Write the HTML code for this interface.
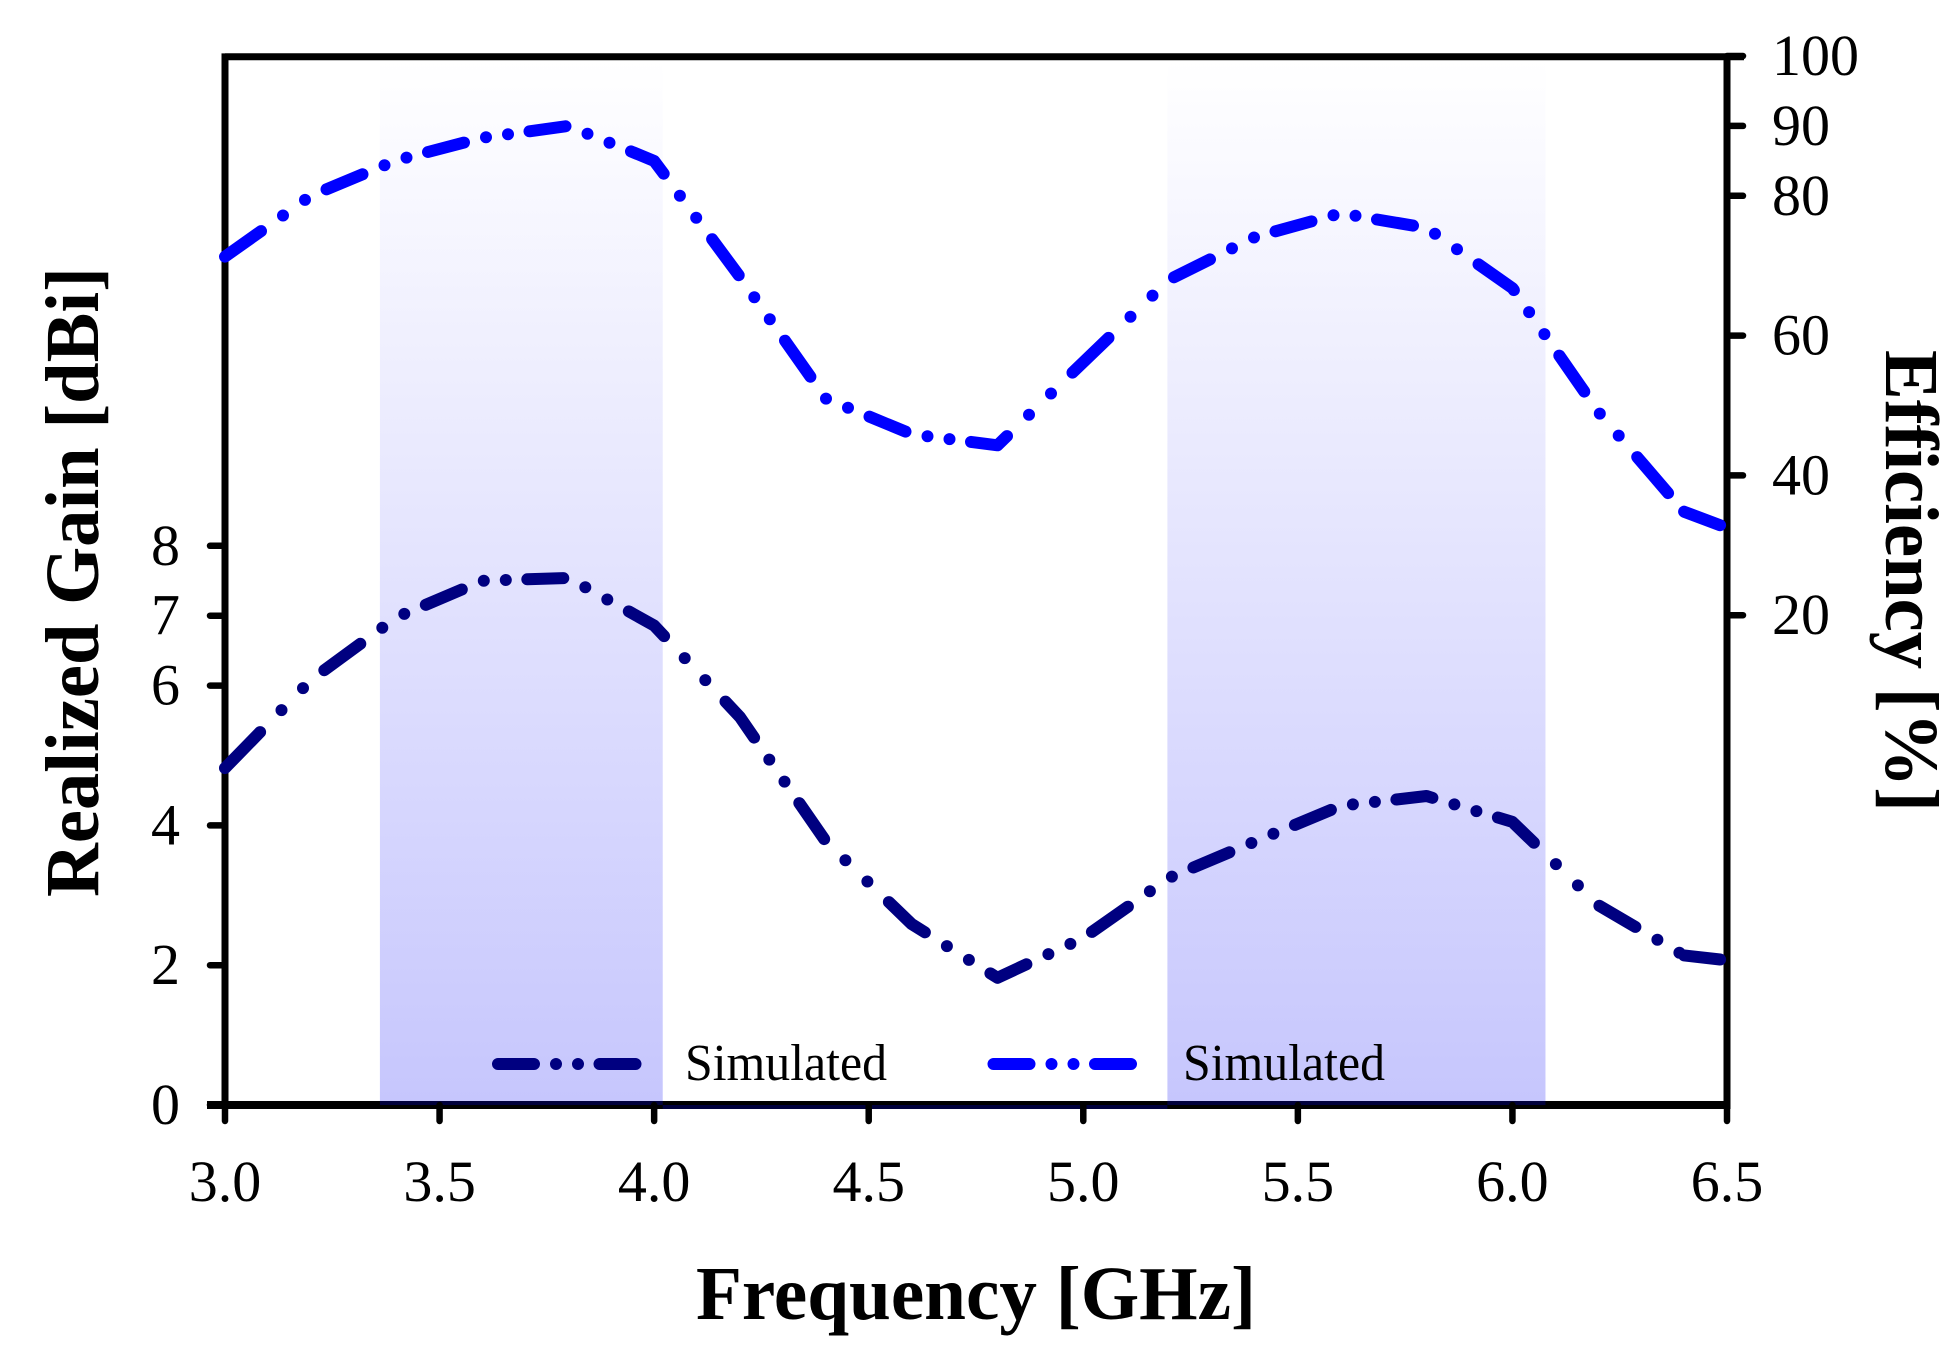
<!DOCTYPE html>
<html lang="en">
<head>
<meta charset="utf-8">
<title>Realized Gain and Efficiency vs Frequency</title>
<style>
  html, body { margin: 0; padding: 0; background: #fff; }
  svg { display: block; }
  text { font-family: "Liberation Serif", "Times New Roman", serif; fill: #000; }
</style>
</head>
<body>
<svg id="chart" xmlns="http://www.w3.org/2000/svg" width="1959" height="1348" viewBox="0 0 1959 1348">
  <defs>
    <linearGradient id="bandFill" gradientUnits="userSpaceOnUse" x1="0" y1="60" x2="0" y2="1105">
      <stop offset="0" stop-color="#ffffff"/>
      <stop offset="1" stop-color="#c6c6fd"/>
    </linearGradient>
  </defs>
  <g id="bands"></g>
  <g id="axes"></g>
  <g id="series"></g>
  <g id="labels"></g>
  <g id="legend"></g>
  <text x="976" y="1319" font-size="76" font-weight="bold" text-anchor="middle" textLength="560" lengthAdjust="spacingAndGlyphs">Frequency [GHz]</text>
  <text transform="translate(98 582) rotate(-90)" font-size="76" font-weight="bold" text-anchor="middle" textLength="630" lengthAdjust="spacingAndGlyphs">Realized Gain [dBi]</text>
  <text transform="translate(1886 581) rotate(90)" font-size="76" font-weight="bold" text-anchor="middle" textLength="462" lengthAdjust="spacingAndGlyphs">Efficiency [%]</text>
</svg>
<script>
const frequencies = [3.0, 3.2, 3.4, 3.6, 3.8, 4.0, 4.2, 4.4, 4.6, 4.8, 5.0, 5.2, 5.4, 5.6, 5.8, 6.0, 6.2, 6.4, 6.5];
const realizedGain = [4.82, 6.08, 6.98, 7.50, 7.54, 6.86, 5.55, 3.77, 2.59, 1.82, 2.39, 3.25, 3.77, 4.28, 4.42, 4.05, 2.86, 2.14, 2.07];
const efficiency = [71.3, 80.0, 85.1, 88.3, 90.0, 85.0, 68.4, 51.0, 45.9, 44.3, 56.2, 68.0, 74.1, 77.5, 75.4, 66.8, 49.1, 34.8, 32.5];
const xTicks = ["3.0", "3.5", "4.0", "4.5", "5.0", "5.5", "6.0", "6.5"];
const gainTicks = ["0", "2", "4", "6", "7", "8"];
const efficiencyTicks = ["20", "40", "60", "80", "90", "100"];
const bandRanges = [[3.361, 4.02], [5.196, 6.077]];
const legendLabels = ["Simulated", "Simulated"];

const NS = "http://www.w3.org/2000/svg";
const xScale = f => 225 + (f - 3) * (1727 - 225) / 3.5;
const gainScale = v => 1105 - v * 69.9;
const effScale = v => 755 - v * 6.99;
const NAVY = "#000080";
const BLUE = "#0000ff";
const STROKE = 12;
const PATTERN = [36, 22, 0, 22, 0, 21.5];
const PATTERN_RESTART_POINT = frequencies.length - 2;

function make(parent, tag, attrs, text) {
  const el = document.createElementNS(NS, tag);
  for (const k in attrs) el.setAttribute(k, attrs[k]);
  if (text !== undefined) el.textContent = text;
  parent.appendChild(el);
  return el;
}

/* The reference's dash pattern advances along the major axis of each segment,
   so step through the polyline with that metric and emit dash/dot subpaths. */
function dashedPath(pts) {
  let d = "";
  let idx = 0;
  let left = PATTERN[0];
  let on = true;
  d += "M" + pts[0][0].toFixed(1) + " " + pts[0][1].toFixed(1);
  for (let i = 1; i < pts.length; i++) {
    const p = pts[i - 1], q = pts[i];
    const len = Math.max(Math.abs(q[0] - p[0]), Math.abs(q[1] - p[1]));
    if (len === 0) continue;
    let t = 0;
    while (t < len) {
      const step = Math.min(left, len - t);
      t += step;
      left -= step;
      const x = p[0] + (q[0] - p[0]) * t / len;
      const y = p[1] + (q[1] - p[1]) * t / len;
      if (on) d += "L" + x.toFixed(1) + " " + y.toFixed(1);
      if (left <= 1e-6) {
        idx = (idx + 1) % PATTERN.length;
        left = PATTERN[idx];
        on = idx % 2 === 0;
        if (on) {
          d += "M" + x.toFixed(1) + " " + y.toFixed(1);
          if (left === 0) {
            d += "L" + x.toFixed(1) + " " + y.toFixed(1);
            idx = (idx + 1) % PATTERN.length;
            left = PATTERN[idx];
            on = false;
          }
        }
      }
    }
  }
  return d;
}

const bandsG = document.getElementById("bands");
const axesG = document.getElementById("axes");
const seriesG = document.getElementById("series");
const labelsG = document.getElementById("labels");
const legendG = document.getElementById("legend");

bandRanges.forEach(r => {
  const band = make(bandsG, "rect", { x: xScale(r[0]), y: 60, width: xScale(r[1]) - xScale(r[0]), height: 1045, fill: "url(#bandFill)" });
  
  
});

const frame = make(axesG, "path", {
  d: "M225 56.7H1744 M225 53.4V1109 M1727 53.4V1109",
  stroke: "#000", "stroke-width": 7, fill: "none"
});



const baseline = make(axesG, "rect", { x: 207, y: 1101, width: 1523, height: 8, fill: "#000" });



bandRanges.forEach(r => {
  const tint = make(axesG, "rect", { x: xScale(r[0]), y: 1101, width: xScale(r[1]) - xScale(r[0]), height: 4, fill: "#00003c" });
  
  
});
const gapBand = make(axesG, "rect", { x: xScale(bandRanges[0][1]), y: 1105, width: xScale(bandRanges[1][0]) - xScale(bandRanges[0][1]), height: 4, fill: "#00003c" });



xTicks.forEach(t => {
  const x = xScale(parseFloat(t));
  const tick = make(axesG, "line", { x1: x, x2: x, y1: 1105, y2: 1121, stroke: "#000", "stroke-width": 6.5, "stroke-linecap": "round" });
  
  
  const label = make(labelsG, "text", { x: x, y: 1201, "font-size": 58, "text-anchor": "middle" }, t);
  
  
});

gainTicks.forEach(t => {
  const y = gainScale(parseFloat(t));
  const tick = make(axesG, "line", { x1: 210, x2: 225, y1: y, y2: y, stroke: "#000", "stroke-width": 6.5, "stroke-linecap": "round" });
  
  
  const label = make(labelsG, "text", { x: 180, y: y + 19, "font-size": 58, "text-anchor": "end" }, t);
  
  
});

efficiencyTicks.forEach(t => {
  const y = effScale(parseFloat(t));
  const tick = make(axesG, "line", { x1: 1727, x2: 1743, y1: y, y2: y, stroke: "#000", "stroke-width": 6.5, "stroke-linecap": "round" });
  
  
  const label = make(labelsG, "text", { x: 1772, y: y + 19, "font-size": 58, "text-anchor": "start" }, t);
  
  
});

function linePoints(values, scale) {
  return values.map((v, i) => [xScale(frequencies[i]), scale(v)]);
}

function seriesPath(values, scale) {
  const pts = linePoints(values, scale);
  return dashedPath(pts.slice(0, PATTERN_RESTART_POINT + 1)) + dashedPath(pts.slice(PATTERN_RESTART_POINT));
}

const lineAttrs = c => ({ fill: "none", stroke: c, "stroke-width": STROKE, "stroke-linecap": "round", "stroke-linejoin": "round" });

const gainLine = make(seriesG, "path", Object.assign({ d: seriesPath(realizedGain, gainScale) }, lineAttrs(NAVY)));



const effLine = make(seriesG, "path", Object.assign({ d: seriesPath(efficiency, effScale) }, lineAttrs(BLUE)));



legendLabels.forEach((name, i) => {
  const x0 = i === 0 ? 498 : 993.5;
  const c = i === 0 ? NAVY : BLUE;
  const key = make(legendG, "path", Object.assign({ d: dashedPath([[x0, 1064], [x0 + 137.5, 1064]]) }, lineAttrs(c)));
  
  
  const label = make(legendG, "text", { x: i === 0 ? 685 : 1183, y: 1080, "font-size": 52, textLength: 202, lengthAdjust: "spacingAndGlyphs" }, name);
  
  
});
</script>
</body>
</html>
